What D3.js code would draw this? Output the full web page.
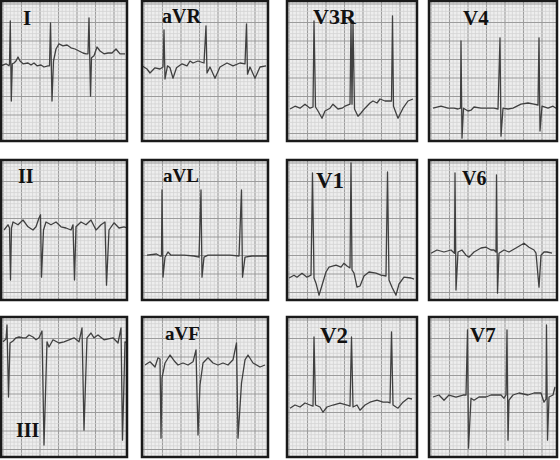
<!DOCTYPE html>
<html>
<head>
<meta charset="utf-8">
<script src="https://cdn.jsdelivr.net/npm/d3@7"></script>
<style>
  body { margin: 0; background: #fff; }
  svg { display: block; }
</style>
</head>
<body>
<svg id="chart" width="560" height="460"></svg>
<script>
// lead names, row by row
const leadNames = ['I', 'aVR', 'V3R', 'V4', 'II', 'aVL', 'V1', 'V6', 'III', 'aVF', 'V2', 'V7'];

// traces: [time (s), amplitude (mV) from the strip's mid line]
const leadI = [[0, .13], [.05, .18], [.08, .13], [.085, .18], [.093, 1.25], [.103, -.75], [.113, .18], [.13, .2], [.15, .25], [.17, .35], [.19, .25], [.22, .18], [.27, .2], [.30, .15], [.33, .2], [.36, .13], [.40, .15], [.43, .1], [.47, .13], [.485, .13], [.495, 1.2], [.51, -.75], [.525, .25], [.55, .55], [.58, .68], [.62, .63], [.66, .65], [.70, .58], [.74, .55], [.78, .5], [.82, .45], [.85, .43], [.87, .43], [.88, 1.33], [.895, -.63], [.905, .33], [.93, .38], [.96, .6], [.99, .5], [1.03, .43], [1.07, .45], [1.11, .45], [1.15, .55], [1.19, .43], [1.24, .43]];
const leadAVR = [[0, .13], [.05, .05], [.08, -.05], [.13, .08], [.18, .05], [.21, .1], [.22, 1.03], [.23, -.2], [.255, .13], [.28, .08], [.31, -.18], [.345, .08], [.40, .18], [.45, .13], [.48, .25], [.51, .2], [.56, .25], [.62, .2], [.64, 1.13], [.65, -.05], [.68, .1], [.73, -.18], [.78, .1], [.85, .2], [.91, .13], [.98, .2], [1.03, .18], [1.045, 1.18], [1.055, -.08], [1.08, .1], [1.13, -.18], [1.18, .1], [1.24, .13]];
const leadV3R = [[.03, -.95], [.08, -.88], [.13, -.93], [.18, -.83], [.23, -.93], [.26, -.9], [.27, 1.25], [.285, -.9], [.31, -1.0], [.35, -1.18], [.38, -1.0], [.43, -.93], [.46, -.83], [.51, -.95], [.55, -.93], [.58, -.88], [.63, -.83], [.64, 1.25], [.65, -.83], [.66, 1.25], [.675, -.95], [.71, -1.13], [.74, -1.05], [.78, -.93], [.83, -.8], [.86, -.75], [.90, -.8], [.93, -.7], [.98, -.75], [1.02, -.75], [1.045, -.75], [1.055, 1.38], [1.065, -.88], [1.09, -1.05], [1.11, -1.18], [1.16, -.93], [1.21, -.75], [1.26, -.7]];
const leadV4 = [[.04, -.93], [.12, -.88], [.19, -.93], [.25, -.93], [.29, -.95], [.315, -.93], [.32, .75], [.33, -1.68], [.345, -.93], [.39, -1.0], [.42, -.98], [.45, -.9], [.52, -.93], [.59, -.93], [.65, -.93], [.69, -.95], [.71, .83], [.72, -1.63], [.74, -.93], [.79, -.95], [.84, -.93], [.92, -.83], [.99, -.8], [1.05, -.83], [1.09, -.85], [1.10, .83], [1.11, -1.5], [1.13, -.88], [1.19, -.93], [1.24, -.88], [1.27, -.93]];
const leadII = [[.03, 0], [.07, .13], [.085, .05], [.095, -1.25], [.105, .05], [.12, .2], [.17, .13], [.22, .25], [.27, .08], [.32, 0], [.35, .08], [.38, .3], [.395, .38], [.405, -1.18], [.425, 0], [.45, .2], [.50, .13], [.55, .2], [.60, .08], [.65, .05], [.70, 0], [.72, .13], [.735, -1.25], [.75, .08], [.80, .2], [.85, .13], [.90, .25], [.95, 0], [.97, .05], [1.00, .13], [1.04, .2], [1.055, -1.38], [1.08, 0], [1.13, .18], [1.18, .05], [1.23, .08], [1.26, .05]];
const leadAVL = [[.05, -.63], [.145, -.6], [.18, -.65], [.195, -.65], [.20, 1.0], [.21, -1.18], [.23, -.68], [.26, -.55], [.29, -.63], [.35, -.63], [.42, -.63], [.52, -.65], [.57, -.68], [.59, 1.0], [.60, -1.18], [.62, -.68], [.66, -.63], [.75, -.63], [.88, -.63], [.97, -.65], [.995, 1.0], [1.005, -1.18], [1.03, -.68], [1.10, -.65], [1.18, -.65], [1.25, -.65]];
const leadV1 = [[.02, -1.2], [.07, -1.13], [.10, -1.18], [.15, -1.08], [.20, -1.18], [.24, -1.13], [.255, 1.43], [.27, -1.2], [.29, -1.33], [.32, -1.63], [.36, -1.3], [.39, -1.05], [.42, -.93], [.49, -.88], [.54, -.93], [.57, -.83], [.60, -.9], [.63, -.95], [.64, 1.68], [.65, -1.0], [.67, -1.08], [.70, -1.43], [.73, -1.4], [.77, -1.15], [.82, -1.05], [.89, -1.08], [.94, -1.13], [.99, -1.15], [1.005, 1.45], [1.02, -1.25], [1.05, -1.43], [1.09, -1.63], [1.12, -1.35], [1.17, -1.18], [1.24, -1.2], [1.27, -1.23]];
const leadV6 = [[.02, -.58], [.08, -.5], [.15, -.55], [.22, -.5], [.255, -.58], [.26, 1.43], [.27, -1.5], [.29, -.55], [.33, -.5], [.37, -.63], [.40, -.68], [.45, -.55], [.52, -.45], [.57, -.43], [.62, -.5], [.65, -.5], [.67, -.55], [.675, 1.38], [.685, -1.58], [.70, -.58], [.75, -.5], [.80, -.55], [.87, -.45], [.95, -.33], [1.00, -.43], [1.05, -.5], [1.07, -.58], [1.10, -1.43], [1.12, -.63], [1.15, -.55], [1.18, -.55], [1.23, -.58]];
const leadIII = [[.02, 1.13], [.05, 1.2], [.06, 1.55], [.075, -.25], [.09, 1.1], [.12, 1.15], [.15, 1.23], [.18, 1.25], [.22, 1.23], [.25, 1.23], [.28, 1.3], [.32, 1.25], [.35, 1.18], [.38, 1.23], [.41, 1.4], [.43, -1.45], [.46, 1.13], [.48, 1.0], [.52, 1.18], [.58, 1.1], [.63, 1.13], [.68, 1.18], [.73, 1.23], [.78, 1.13], [.81, 1.48], [.83, -1.08], [.86, 1.23], [.90, 1.35], [.93, 1.23], [.97, 1.3], [1.03, 1.18], [1.12, 1.23], [1.17, 1.1], [1.20, 1.48], [1.215, -1.33], [1.24, 1.13], [1.26, 1.1]];
const leadAVF = [[.03, .55], [.08, .63], [.13, .5], [.16, .73], [.18, .7], [.19, -1.28], [.20, .23], [.23, .6], [.28, .8], [.33, .63], [.36, .55], [.41, .6], [.46, .55], [.51, .63], [.54, .93], [.56, -1.2], [.58, .05], [.61, .6], [.66, .73], [.71, .6], [.76, .55], [.81, .6], [.86, .55], [.91, .68], [.945, 1.1], [.96, -1.28], [.995, .1], [1.03, .68], [1.06, .8], [1.11, .6], [1.18, .5], [1.23, .55]];
const leadV2 = [[.03, -.53], [.08, -.45], [.13, -.5], [.18, -.4], [.23, -.45], [.26, -.48], [.27, 1.25], [.285, -.45], [.33, -.5], [.36, -.63], [.40, -.5], [.46, -.45], [.53, -.4], [.60, -.45], [.63, -.48], [.645, 1.25], [.66, -.5], [.70, -.45], [.73, -.58], [.78, -.45], [.83, -.38], [.90, -.33], [.96, -.38], [1.01, -.38], [1.03, -.4], [1.045, 1.38], [1.06, -.45], [1.09, -.5], [1.11, -.53], [1.16, -.38], [1.21, -.28], [1.25, -.3]];
const leadV7 = [[.04, -.25], [.10, -.2], [.15, -.33], [.20, -.2], [.27, -.25], [.34, -.2], [.37, -.2], [.385, 1.43], [.395, -1.53], [.42, -.28], [.45, -.33], [.50, -.25], [.57, -.25], [.62, -.2], [.72, -.2], [.75, -.28], [.77, -.2], [.78, 1.43], [.79, -1.33], [.80, -.33], [.84, -.2], [.90, -.15], [.99, -.2], [1.05, -.15], [1.12, -.15], [1.15, -.38], [1.17, -.3], [1.175, 1.55], [1.185, -1.33], [1.20, -.25], [1.24, -.2], [1.26, 0]];

const traces = [leadI, leadAVR, leadV3R, leadV4, leadII, leadAVL, leadV1, leadV6, leadIII, leadAVF, leadV2, leadV7];

// layout
var colX = [1, 142, 287, 429];
var colW = [126, 126, 130, 128];
var rowY = [1, 160, 317];
var rowH = 140;
var pxPerSec = 100;
var pxPerMv = 40;
// label placement relative to the panel: dx, baseline dy, font size
var labelPos = [
  [22, 24, 21], [20, 22, 20], [26, 23, 22], [34, 24, 21],
  [17, 23, 20], [21, 22, 19], [29, 28, 23], [33, 25, 20],
  [15, 120, 20], [23, 23, 19], [33, 26, 23], [41, 25, 21]
];

var svg = d3.select('#chart');
var defs = svg.append('defs');

leadNames.forEach((name, i) => {
  var col = i % 4;
  var row = Math.floor(i / 4);
  var x0 = colX[col], y0 = rowY[row], w = colW[col], h = rowH;

  var x = d3.scaleLinear().domain([0, w / pxPerSec]).range([x0, x0 + w]);
  var y = d3.scaleLinear().domain([-h / 2 / pxPerMv, h / 2 / pxPerMv]).range([y0 + h, y0]);

  var g = svg.append('g').attr('class', 'lead');

  defs.append('clipPath').attr('id', 'clip' + i)
    .append('rect').attr('x', x0).attr('y', y0).attr('width', w).attr('height', h);

  g.append('rect')
    .attr('x', x0).attr('y', y0).attr('width', w).attr('height', h)
    .attr('fill', '#eeeeee');

  // paper grid, minor then major
  var grid = g.append('g').attr('clip-path', 'url(#clip' + i + ')');
  var minor = 3.7;
  d3.range(x0 + 2, x0 + w, minor).forEach((gx, k) => {
    grid.append('line')
      .attr('x1', gx).attr('x2', gx).attr('y1', y0).attr('y2', y0 + h)
      .attr('stroke', k % 5 === 0 ? '#9c9c9c' : '#d3d3d3')
      .attr('stroke-width', k % 5 === 0 ? 1.1 : 0.8);
  });
  d3.range(y0 + 3, y0 + h, minor).forEach((gy, k) => {
    grid.append('line')
      .attr('x1', x0).attr('x2', x0 + w).attr('y1', gy).attr('y2', gy)
      .attr('stroke', k % 5 === 0 ? '#9c9c9c' : '#d3d3d3')
      .attr('stroke-width', k % 5 === 0 ? 1.1 : 0.8);
  });

  var line = d3.line().x((d) => x(d[0])).y((d) => y(d[1]));

  g.append('path')
    .datum(traces[i])
    .attr('clip-path', 'url(#clip' + i + ')')
    .attr('d', line)
    .attr('fill', 'none')
    .attr('stroke', '#404040')
    .attr('stroke-width', 1.3)
    .attr('stroke-linejoin', 'round');

  g.append('text')
    .attr('x', x0 + labelPos[i][0])
    .attr('y', y0 + labelPos[i][1])
    .attr('font-family', '"Liberation Serif", "Times New Roman", serif')
    .attr('font-weight', 'bold')
    .attr('font-size', labelPos[i][2])
    .attr('fill', '#111')
    .text(name);

  g.append('rect')
    .attr('x', x0).attr('y', y0).attr('width', w).attr('height', h)
    .attr('fill', 'none')
    .attr('stroke', '#1a1a1a')
    .attr('stroke-width', 2.5);
});
</script>
</body>
</html>
